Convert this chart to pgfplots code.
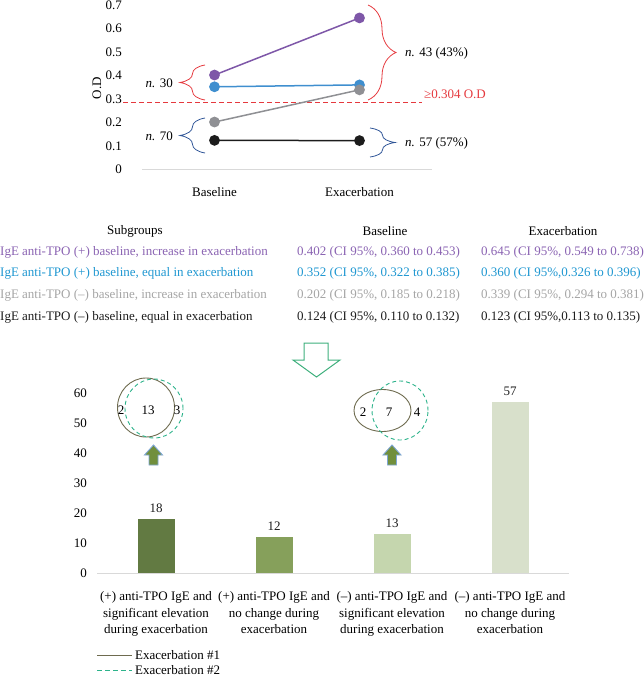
\documentclass[border=0pt]{standalone}
\usepackage{fontspec}
\setmainfont{Liberation Serif}
\usepackage{pgfplots}
\pgfplotsset{compat=1.18}
\usetikzlibrary{decorations.pathreplacing}
\definecolor{purpleC}{HTML}{7E57A8}
\definecolor{blueC}{HTML}{3F8FCF}
\definecolor{grayC}{HTML}{8F9094}
\definecolor{blackC}{HTML}{1C1C1C}
\definecolor{redC}{HTML}{E5393E}
\definecolor{braceBlue}{HTML}{2F5597}
\definecolor{axisGray}{HTML}{D9D9D9}
\definecolor{tPurple}{HTML}{8A63B2}
\definecolor{tBlue}{HTML}{1F97D1}
\definecolor{tGray}{HTML}{A5A5A5}
\definecolor{barA}{HTML}{627A42}
\definecolor{barB}{HTML}{86A05B}
\definecolor{barC}{HTML}{C5D6AE}
\definecolor{barD}{HTML}{D8E0CB}
\definecolor{vennSolid}{HTML}{6E6B4F}
\definecolor{vennDash}{HTML}{2DB38B}
\definecolor{arrFill}{HTML}{718F3C}
\definecolor{arrEdge}{HTML}{7EA6D4}
\definecolor{bigArr}{HTML}{3EAF7C}
\begin{document}
\fontsize{13}{16}\selectfont
\begin{tikzpicture}[x=1pt,y=1pt]
\path[use as bounding box] (0,0) rectangle (644,-677);
% ---------- top line chart ----------
\begin{axis}[
  at={(142pt,-169.5pt)}, anchor=south west, scale only axis,
  width=290pt, height=164.5pt,
  xmin=-0.5, xmax=1.5, ymin=0, ymax=0.7,
  clip=false,
  axis x line*=bottom, axis y line*=left,
  x axis line style={draw=axisGray, line width=0.8pt, -},
  y axis line style={draw=none},
  major tick length=0pt,
  xtick={0,1}, xticklabels={Baseline,Exacerbation},
  ytick={0,0.1,0.2,0.3,0.4,0.5,0.6,0.7},
  /pgf/number format/fixed, /pgf/number format/precision=1,
  /pgf/number format/assume math mode=true,
  yticklabel style={xshift=-15.7pt},
  xticklabel style={yshift=-13.7pt},
]
\addplot[redC, dashed, line width=0.9pt, dash pattern=on 5pt off 3pt] coordinates {(-0.628,0.284) (1.428,0.284)};
\addplot[purpleC, line width=1.5pt, mark=*, mark size=4.6pt] coordinates {(0,0.402) (1,0.645)};
\addplot[blueC, line width=1.5pt, mark=*, mark size=4.6pt] coordinates {(0,0.352) (1,0.360)};
\addplot[grayC, line width=1.5pt, mark=*, mark size=4.6pt] coordinates {(0,0.202) (1,0.339)};
\addplot[blackC, line width=1.5pt, mark=*, mark size=4.6pt] coordinates {(0,0.124) (1,0.123)};
\end{axis}
\node[rotate=90] at (97,-88) {O.D};
% braces
\draw[redC, line width=0.8pt, decorate, decoration={brace, amplitude=25pt}] (205,-100) -- (205,-65);
\draw[braceBlue, line width=0.8pt, decorate, decoration={brace, amplitude=25pt}] (205,-153) -- (205,-118);
\draw[redC, line width=0.8pt, decorate, decoration={brace, amplitude=28pt}] (368,-5) -- (368,-100);
\draw[braceBlue, line width=0.8pt, decorate, decoration={brace, amplitude=25pt}] (370,-128) -- (370,-157);
\node[anchor=east, inner sep=0pt] at (173,-83) {\textit{n.} 30};
\node[anchor=east, inner sep=0pt] at (173,-136) {\textit{n.} 70};
\node[anchor=west, inner sep=0pt] at (405,-53) {\textit{n.} 43 (43\%)};
\node[anchor=west, inner sep=0pt] at (405,-143) {\textit{n.} 57 (57\%)};
\node[anchor=west, inner sep=0pt, text=redC] at (424,-94) {≥0.304 O.D};
% ---------- table ----------
\node at (135,-231) {Subgroups};
\node at (385,-231) {Baseline};
\node at (563,-231) {Exacerbation};
\node[anchor=west, inner sep=0pt, text=tPurple] at (0,-252) {IgE anti-TPO (+) baseline, increase in exacerbation};
\node[anchor=west, inner sep=0pt, text=tBlue] at (0,-273) {IgE anti-TPO (+) baseline, equal in exacerbation};
\node[anchor=west, inner sep=0pt, text=tGray] at (0,-295) {IgE anti-TPO (\textendash) baseline, increase in exacerbation};
\node[anchor=west, inner sep=0pt, text=blackC] at (0,-317) {IgE anti-TPO (\textendash) baseline, equal in exacerbation};
\node[anchor=west, inner sep=0pt, text=tPurple] at (297,-252) {0.402 (CI 95\%, 0.360 to 0.453)};
\node[anchor=west, inner sep=0pt, text=tBlue] at (297,-273) {0.352 (CI 95\%, 0.322 to 0.385)};
\node[anchor=west, inner sep=0pt, text=tGray] at (297,-295) {0.202 (CI 95\%, 0.185 to 0.218)};
\node[anchor=west, inner sep=0pt, text=blackC] at (297,-317) {0.124 (CI 95\%, 0.110 to 0.132)};
\node[anchor=west, inner sep=0pt, text=tPurple] at (481,-252) {0.645 (CI 95\%, 0.549 to 0.738)};
\node[anchor=west, inner sep=0pt, text=tBlue] at (481,-273) {0.360 (CI 95\%,0.326 to 0.396)};
\node[anchor=west, inner sep=0pt, text=tGray] at (481,-295) {0.339 (CI 95\%, 0.294 to 0.381)};
\node[anchor=west, inner sep=0pt, text=blackC] at (481,-317) {0.123 (CI 95\%,0.113 to 0.135)};
% big hollow arrow
\draw[bigArr, line width=1pt, line join=miter] (304,-343) -- (328,-343) -- (328,-360) -- (340,-360) -- (316.5,-377) -- (293,-360) -- (304,-360) -- cycle;
% ---------- bar chart ----------
\begin{axis}[
  at={(97pt,-573pt)}, anchor=south west, scale only axis,
  width=472pt, height=180pt,
  xmin=-0.5, xmax=3.5, ymin=0, ymax=60,
  clip=false,
  axis x line*=bottom, axis y line*=left,
  x axis line style={draw=axisGray, line width=0.8pt, -},
  y axis line style={draw=none},
  major tick length=0pt,
  xtick={0,1,2,3},
  xticklabels={{(+) anti-TPO IgE and\\significant elevation\\during exacerbation},
               {(+) anti-TPO IgE and\\no change during\\exacerbation},
               {(\textendash) anti-TPO IgE and\\significant elevation\\during exacerbation},
               {(\textendash) anti-TPO IgE and\\no change during\\exacerbation}},
  xticklabel style={align=center, yshift=-14pt, font=\fontsize{13}{16.5}\selectfont},
  ytick={0,10,20,30,40,50,60},
  /pgf/number format/assume math mode=true,
  yticklabel style={xshift=-5.7pt},
  nodes near coords, every node near coord/.append style={yshift=2pt, text=blackC},
]
\addplot[ybar, bar shift=0pt, bar width=37pt, fill=barA, draw=none] coordinates {(0,18)};
\addplot[ybar, bar shift=0pt, bar width=37pt, fill=barB, draw=none] coordinates {(1,12)};
\addplot[ybar, bar shift=0pt, bar width=37pt, fill=barC, draw=none] coordinates {(2,13)};
\addplot[ybar, bar shift=0pt, bar width=37pt, fill=barD, draw=none] coordinates {(3,57)};
\end{axis}
% Venn 1
\draw[vennSolid, line width=0.9pt] (146,-407.5) ellipse [x radius=28.5, y radius=29.5];
\draw[vennDash, line width=0.9pt, dash pattern=on 4pt off 3pt] (154,-408.5) ellipse [x radius=29, y radius=29.5];
\node at (121,-410) {2};
\node at (148,-410) {13};
\node at (177,-410) {3};
% Venn 2
\draw[vennSolid, line width=0.9pt] (382.5,-410.5) ellipse [x radius=28.5, y radius=21];
\draw[vennDash, line width=0.9pt, dash pattern=on 4pt off 3pt] (400,-410.5) ellipse [x radius=28, y radius=29.5];
\node at (363,-412) {2};
\node at (389,-412) {7};
\node at (417,-412) {4};
% small arrows
\foreach \cx in {153.5,392}{
  \filldraw[fill=arrFill, draw=arrEdge, line width=0.9pt, line join=miter]
    (\cx,-445) -- (\cx+9,-455) -- (\cx+4.5,-455) -- (\cx+4.5,-465) -- (\cx-4.5,-465) -- (\cx-4.5,-455) -- (\cx-9,-455) -- cycle;
}
% legend
\draw[vennSolid, line width=0.9pt] (97,-655) -- (132,-655);
\draw[vennDash, line width=0.9pt, dash pattern=on 5pt off 3pt] (97,-670) -- (132,-670);
\node[anchor=west, inner sep=0pt] at (135,-655) {Exacerbation \#1};
\node[anchor=west, inner sep=0pt] at (135,-670) {Exacerbation \#2};
\end{tikzpicture}
\end{document}
